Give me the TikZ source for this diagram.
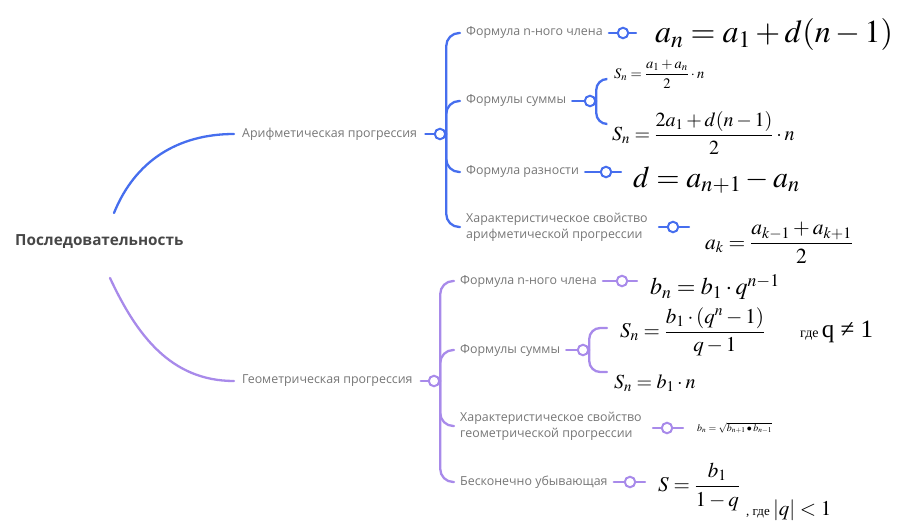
\documentclass[tikz,border=0pt]{standalone}
\usepackage{amsmath}
\usepackage{mathptmx}
\usepackage[no-math]{fontspec}
\newfontfamily\lab{Open Sans}
\newfontfamily\tms{Liberation Serif}
\definecolor{ablue}{RGB}{70,110,238}
\definecolor{gpur}{RGB}{168,138,234}
\definecolor{lgray}{RGB}{118,118,118}
\tikzset{
  lbl/.style={anchor=west, inner xsep=6pt, inner ysep=1pt, font=\lab\fontsize{12.4}{16}\selectfont, text=lgray, align=left},
  hub/.style={circle, draw, fill=white, line width=2pt, inner sep=0pt, minimum size=10.5pt},
  ln/.style={line width=2.3pt, line cap=round},
  fm/.style={anchor=west, inner sep=0pt},
}
\begin{document}
\begin{tikzpicture}[x=1pt,y=-1pt]
\useasboundingbox (0,0) rectangle (907,521);
% root
\node[anchor=west, font=\lab\bfseries\fontsize{15.3}{18}\selectfont, text=black!72, inner sep=0pt] (root) at (15,242) {Последовательность};
\coordinate (rt) at (114,213);
\coordinate (rb) at (110,278);
% ---------------- arithmetic
\begin{scope}[ablue]
\node[lbl, inner xsep=8pt] (ar) at (234,134) {Арифметическая прогрессия};
\draw[ln] (rt) to[out=68,in=180] (ar.west);
\node[hub] (ah) at (440,134) {};
\draw[ln] (ar.east) -- (ah);
\node[lbl] (a1) at (460,33) {Формула n-ного члена};
\node[lbl] (a2) at (460,101) {Формулы суммы};
\node[lbl] (a3) at (460,172) {Формула разности};
\node[lbl] (a4) at (460,227) {Характеристическое свойство\\арифметической прогрессии};
\draw[ln, rounded corners=13pt] (ah.east) |- (a1.west);
\draw[ln, rounded corners=13pt] (ah.east) |- (a2.west);
\draw[ln, rounded corners=13pt] (ah.east) |- (a3.west);
\draw[ln, rounded corners=13pt] (ah.east) |- (a4.west);
% connectors
\node[hub] (c1) at (623,33) {};
\coordinate (c1e) at (636,33);
\draw[ln] (a1.east) -- (c1) -- (c1e);
\node[hub] (cs) at (590,101) {};
\coordinate (cs1) at (607,79);
\coordinate (cs2) at (607,124);
\draw[ln] (a2.east) -- (cs);
\draw[ln, rounded corners=11pt] (cs.east) |- (cs1);
\draw[ln, rounded corners=11pt] (cs.east) |- (cs2);
\node[hub] (c3) at (606,172) {};
\coordinate (c3e) at (621,172);
\draw[ln] (a3.east) -- (c3) -- (c3e);
\node[hub] (c4) at (673,227) {};
\coordinate (c4s) at (659,227);
\coordinate (c4e) at (689,227);
\draw[ln] (c4s) -- (c4) -- (c4e);
\end{scope}
% formulas arithmetic
\node[fm, font=\fontsize{32}{34}\selectfont] (f1) at (655,35) {$a_n = a_1 + d(n-1)$};
\node[fm, font=\fontsize{14.5}{16}\selectfont] (f2a) at (614,74) {$S_n = \dfrac{a_1+a_n}{2}\cdot n$};
\node[fm, font=\fontsize{20}{22}\selectfont] (f2b) at (612,133) {$S_n = \dfrac{2a_1+d(n-1)}{2}\cdot n$};
\node[fm, font=\fontsize{30}{32}\selectfont] (f3) at (633,180) {$d = a_{n+1} - a_n$};
\node[fm, font=\fontsize{21.5}{23}\selectfont] (f4) at (705,243) {$a_k = \dfrac{a_{k-1}+a_{k+1}}{2}$};
% ---------------- geometric
\begin{scope}[gpur]
\node[lbl, inner xsep=8pt] (ge) at (234,381) {Геометрическая прогрессия};
\draw[ln] (rb) to[out=-65,in=180] (ge.west);
\node[hub] (gh) at (434,381) {};
\draw[ln] (ge.east) -- (gh);
\node[lbl] (g1) at (454,281) {Формула n-ного члена};
\node[lbl] (g2) at (454,350) {Формулы суммы};
\node[lbl] (g3) at (454,426) {Характеристическое свойство\\геометрической прогрессии};
\node[lbl] (g4) at (454,482) {Бесконечно убывающая};
\draw[ln, rounded corners=13pt] (gh.east) |- (g1.west);
\draw[ln, rounded corners=13pt] (gh.east) |- (g2.west);
\draw[ln, rounded corners=13pt] (gh.east) |- (g3.west);
\draw[ln, rounded corners=13pt] (gh.east) |- (g4.west);
\node[hub] (d1) at (622,281) {};
\coordinate (d1e) at (637,281);
\draw[ln] (g1.east) -- (d1) -- (d1e);
\node[hub] (ds) at (583,350) {};
\coordinate (ds1) at (607,328);
\coordinate (ds2) at (607,372);
\draw[ln] (g2.east) -- (ds);
\draw[ln, rounded corners=11pt] (ds.east) |- (ds1);
\draw[ln, rounded corners=11pt] (ds.east) |- (ds2);
\node[hub] (d3) at (667,428) {};
\coordinate (d3s) at (653,428);
\coordinate (d3e) at (683,428);
\draw[ln] (d3s) -- (d3) -- (d3e);
\node[hub] (d4) at (630,482) {};
\coordinate (d4e) at (645,482);
\draw[ln] (g4.east) -- (d4) -- (d4e);
\end{scope}
% formulas geometric
\node[fm, font=\fontsize{24}{26}\selectfont] (h1) at (650,287) {$b_n = b_1\cdot q^{n-1}$};
\node[fm, font=\fontsize{21}{23}\selectfont] (h2a) at (620,332) {$S_n = \dfrac{b_1\cdot(q^n-1)}{q-1}$};
\node[fm] (h2c) at (800,332) {{\tms\fontsize{14}{16}\selectfont где} {\tms\fontsize{25}{27}\selectfont q ≠ 1}};
\node[fm, font=\fontsize{20}{22}\selectfont] (h2b) at (614,383) {$S_n = b_1\cdot n$};
\node[fm, font=\fontsize{10}{12}\selectfont] (h3) at (697,428) {$b_n = \sqrt{b_{n+1}\bullet b_{n-1}}$};
\node[fm, font=\fontsize{21}{23}\selectfont] (h4) at (658,487) {$S = \dfrac{b_1}{1-q}$};
\node[fm] (h4c) at (746,510) {{\tms\fontsize{13}{15}\selectfont , где} {\fontsize{21}{23}\selectfont $|q| < 1$}};
\end{tikzpicture}
\end{document}
